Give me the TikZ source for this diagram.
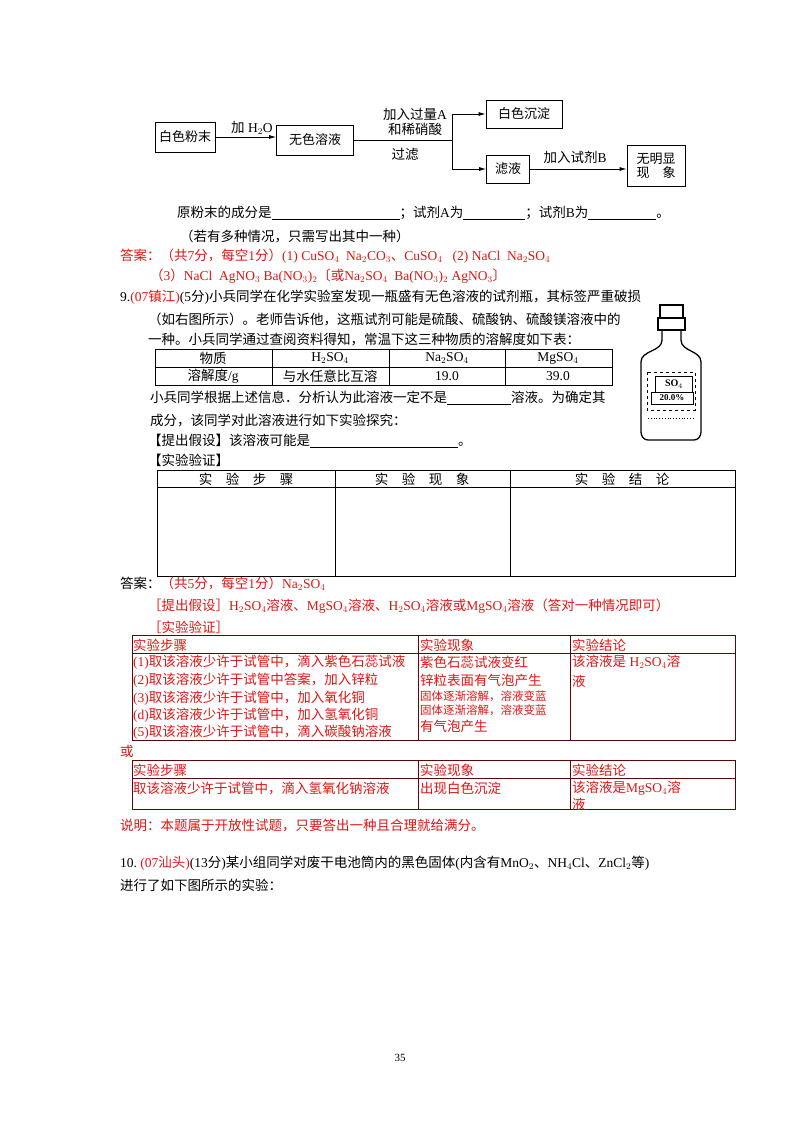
\documentclass[tikz,border=0pt]{standalone}
\usepackage{fontspec}
\usetikzlibrary{arrows.meta}
\setmainfont{Liberation Serif}
\newfontfamily\cjkf{Noto Sans CJK SC}
\newfontfamily\latf{Liberation Serif}
\XeTeXinterchartokenstate=1
\newcount\cc
\cc="3000 \loop \XeTeXcharclass\cc=7 \advance\cc1 \ifnum\cc<"A000 \repeat
\cc="FF00 \loop \XeTeXcharclass\cc=7 \advance\cc1 \ifnum\cc<"FFF0 \repeat
\XeTeXinterchartoks 0 7 = {\cjkf}
\XeTeXinterchartoks 4095 7 = {\cjkf}
\XeTeXinterchartoks 7 0 = {\latf}
\XeTeXinterchartoks 7 4095 = {\latf}
\newcommand\ssb[1]{$_{#1}$}
\newcommand\blank[1]{\rule[-2pt]{#1pt}{0.6pt}}
\definecolor{ans}{RGB}{225,20,20}
\begin{document}
\begin{tikzpicture}[x=1pt,y=-1pt,
 t/.style={anchor=west,inner sep=0,font=\fontsize{13.5}{14}\selectfont},
 sm/.style={anchor=west,inner sep=0,font=\fontsize{11.5}{12}\selectfont},
 r/.style={t,text=ans},
 fbox/.style={draw,line width=0.7pt,inner sep=0,font=\fontsize{13}{14}\selectfont},
 arr/.style={-{Latex[length=7pt,width=4pt]},line width=0.8pt},
 tb/.style={line width=0.7pt},
 tr/.style={line width=1pt,ans!40!black}]
\useasboundingbox (0,0) rectangle (800,1132);
% flowchart
\node[fbox,minimum width=60,minimum height=30] (a) at (185,137) {白色粉末};
\node[fbox,minimum width=77,minimum height=30] (b) at (315,140) {无色溶液};
\node[fbox,minimum width=76,minimum height=28] (c) at (524,114) {白色沉淀};
\node[fbox,minimum width=43,minimum height=28] (d) at (508,169) {滤液};
\node[fbox,minimum width=58,minimum height=41,align=center] (e) at (656,166) {无明显\\现\quad 象};
\draw[arr] (a.east) -- (b.west|-a.east);
\node[t] (la) at (231,128) {加 H\ssb{2}O};
\coordinate (j) at (452,140);
\draw[line width=0.8pt] (b.east|-j) -- (j);
\draw[arr] (j) |- (c.west);
\draw[arr] (j) |- (d.west);
\draw[arr] (d.east) -- (e.west|-d.east);
\node[t,anchor=center] (l1) at (415,114) {加入过量A};
\node[t,anchor=center] (l2) at (415,129) {和稀硝酸};
\node[t,anchor=center] (l3) at (405,154) {过滤};
\node[t,anchor=center] (l4) at (575,157) {加入试剂B};
% text
\node[t] (p1) at (177,213) {原粉末的成分是\blank{128}；试剂A为\blank{62}；试剂B为\blank{68}。};
\node[t] (p2) at (180,236) {（若有多种情况，只需写出其中一种）};
\node[r] (p3) at (120,256) {答案：（共7分，每空1分）(1) CuSO\ssb{4}\ \ Na\ssb{2}CO\ssb{3}、CuSO\ssb{4}\ \ \ (2) NaCl\ \ Na\ssb{2}SO\ssb{4}};
\node[r] (p4) at (150,276) {（3）NaCl\ \ AgNO\ssb{3}\ Ba(NO\ssb{3})\ssb{2}〔或Na\ssb{2}SO\ssb{4}\ \ Ba(NO\ssb{3})\ssb{2}\ AgNO\ssb{3}〕};
\node[t] (p5) at (120,297) {9.\textcolor{ans}{(07镇江)}(5分)小兵同学在化学实验室发现一瓶盛有无色溶液的试剂瓶，其标签严重破损};
\node[t] (p6) at (148,319) {（如右图所示）。老师告诉他，这瓶试剂可能是硫酸、硫酸钠、硫酸镁溶液中的};
\node[t] (p7) at (148,339) {一种。小兵同学通过查阅资料得知，常温下这三种物质的溶解度如下表：};
% table 1
\draw[tb] (155,349) rectangle (612,385);
\draw[tb] (155,367) -- (612,367);
\foreach \x in {272,389,505} \draw[tb] (\x,349) -- (\x,385);
\node[t,anchor=center] (t11) at (213,358) {物质};
\node[t,anchor=center] (t12) at (330,358) {H\ssb{2}SO\ssb{4}};
\node[t,anchor=center] (t13) at (447,358) {Na\ssb{2}SO\ssb{4}};
\node[t,anchor=center] (t14) at (558,358) {MgSO\ssb{4}};
\node[t,anchor=center] (t21) at (213,376) {溶解度/g};
\node[t,anchor=center] (t22) at (330,376) {与水任意比互溶};
\node[t,anchor=center] (t23) at (447,376) {19.0};
\node[t,anchor=center] (t24) at (558,376) {39.0};
% bottle
\draw[line width=1.3pt] (660,305) rectangle (683,318);
\draw[line width=1.3pt] (658,318) rectangle (685,330);
\draw[line width=1.3pt] (662,330) -- (662,340) to[out=-90,in=90] (641,362) -- (641,432) to[out=-90,in=180] (648,440) -- (694,440) to[out=0,in=-90] (701,432) -- (701,362) to[out=90,in=-90] (681,340) -- (681,330);
\draw[line width=0.8pt,dashed] (647,372) rectangle (695,410);
\draw[line width=0.8pt] (655,376) rectangle (692,392);
\draw[line width=0.8pt] (651,392) rectangle (693,404);
\node[inner sep=0,font=\fontsize{10}{10}\bfseries] (bl1) at (674,384) {SO\ssb{4}};
\node[inner sep=0,font=\fontsize{9}{9}\bfseries] (bl2) at (672,398) {20.0\%};
\draw[dotted,line width=0.8pt] (648,418) -- (694,418);
% more text
\node[t] (p8) at (150,398) {小兵同学根据上述信息．分析认为此溶液一定不是\blank{64}溶液。为确定其};
\node[t] (p9) at (150,420) {成分，该同学对此溶液进行如下实验探究：};
\node[t] (p10) at (148,441) {【提出假设】该溶液可能是\blank{148}。};
\node[t] (p11) at (148,460) {【实验验证】};
% table 2
\draw[tb] (157,470) rectangle (735,576);
\draw[tb] (157,487) -- (735,487);
\foreach \x in {335,510} \draw[tb] (\x,470) -- (\x,576);
\node[t,anchor=center] (h1) at (246,479) {实\quad 验\quad 步\quad 骤};
\node[t,anchor=center] (h2) at (422,479) {实\quad 验\quad 现\quad 象};
\node[t,anchor=center] (h3) at (622,479) {实\quad 验\quad 结\quad 论};
% answers
\node[t] (q1) at (120,584) {答案：\textcolor{ans}{（共5分，每空1分）Na\ssb{2}SO\ssb{4}}};
\node[r] (q2) at (148,606) {［提出假设］H\ssb{2}SO\ssb{4}溶液、MgSO\ssb{4}溶液、H\ssb{2}SO\ssb{4}溶液或MgSO\ssb{4}溶液（答对一种情况即可）};
\node[r] (q3) at (148,627) {［实验验证］};
% table 3
\draw[tr] (132,635) rectangle (735,740);
\draw[tr] (132,653) -- (735,653);
\foreach \x in {418,570} \draw[tr] (\x,635) -- (\x,740);
\node[r] (a1) at (133,645) {实验步骤};
\node[r] (a2) at (420,645) {实验现象};
\node[r] (a3) at (572,645) {实验结论};
\node[r] (s1) at (133,662) {(1)取该溶液少许于试管中，滴入紫色石蕊试液};
\node[r] (s2) at (133,680) {(2)取该溶液少许于试管中答案，加入锌粒};
\node[r] (s3) at (133,698) {(3)取该溶液少许于试管中，加入氧化铜};
\node[r] (s4) at (133,715) {(d)取该溶液少许于试管中，加入氢氧化铜};
\node[r] (s5) at (133,732) {(5)取该溶液少许于试管中，滴入碳酸钠溶液};
\node[r] (o1) at (420,662) {紫色石蕊试液变红};
\node[r] (o2) at (420,680) {锌粒表面有气泡产生};
\node[sm,text=ans] (o3) at (420,696) {固体逐渐溶解，溶液变蓝};
\node[sm,text=ans] (o4) at (420,710) {固体逐渐溶解，溶液变蓝};
\node[r] (o5) at (420,726) {有气泡产生};
\node[r] (c1) at (572,662) {该溶液是 H\ssb{2}SO\ssb{4}溶};
\node[r] (c2) at (572,681) {液};
\node[r] (or) at (120,751) {或};
% table 4
\draw[tr] (132,760) rectangle (735,809);
\draw[tr] (132,778) -- (735,778);
\foreach \x in {418,570} \draw[tr] (\x,760) -- (\x,809);
\node[r] (b1) at (133,770) {实验步骤};
\node[r] (b2) at (420,770) {实验现象};
\node[r] (b3) at (572,770) {实验结论};
\node[r] (b4) at (133,788) {取该溶液少许于试管中，滴入氢氧化钠溶液};
\node[r] (b5) at (420,788) {出现白色沉淀};
\node[r] (b6) at (572,788) {该溶液是MgSO\ssb{4}溶};
\node[r] (b7) at (572,804) {液};
\node[r] (n1) at (120,826) {说明：本题属于开放性试题，只要答出一种且合理就给满分。};
\node[t] (n2) at (120,863) {10.\ \textcolor{ans}{(07汕头)}(13分)某小组同学对废干电池筒内的黑色固体(内含有MnO\ssb{2}、NH\ssb{4}Cl、ZnCl\ssb{2}等)};
\node[t] (n3) at (120,885) {进行了如下图所示的实验：};
\node[t,anchor=center,font=\fontsize{11}{11}\selectfont] (pg) at (400,1058) {35};
\end{tikzpicture}
\end{document}
